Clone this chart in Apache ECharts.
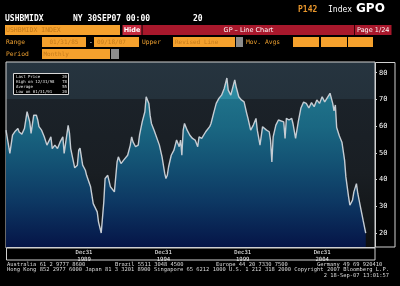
<!DOCTYPE html>
<html><head><meta charset="utf-8">
<script src="https://cdn.jsdelivr.net/npm/echarts@6/dist/echarts.min.js"></script>
<style>html,body{margin:0;padding:0;background:#000;}#c{width:400px;height:286px;}</style>
</head><body><div id="c"></div>
<script>
const months = ['1985-01','1985-04','1985-06','1985-08','1985-10','1985-11','1986-01','1986-03','1986-05','1986-07','1986-08','1986-10','1986-12',
'1987-01','1987-02','1987-04','1987-06','1987-08','1987-11','1987-12','1988-02','1988-04','1988-06','1988-08','1988-09','1988-12',
'1989-01','1989-02','1989-05','1989-07','1989-08','1989-09','1989-11','1990-01','1990-02','1990-05','1990-07','1990-10','1990-11',
'1991-01','1991-03','1991-04','1991-06','1991-08','1991-09','1991-11','1992-01','1992-02','1992-04','1992-06','1992-07','1992-09','1992-11','1992-12',
'1993-01','1993-03','1993-05','1993-06','1993-08','1993-10','1993-11','1994-01','1994-02','1994-03','1994-05','1994-06','1994-09','1994-11',
'1995-01','1995-02','1995-03','1995-04','1995-06','1995-08','1995-10','1995-11','1995-12','1996-01','1996-02','1996-03','1996-04','1996-06','1996-08','1996-10','1996-12',
'1997-02','1997-03','1997-05','1997-08','1997-09','1997-11','1997-12','1998-02','1998-04','1998-06','1998-08','1998-10','1998-12',
'1999-01','1999-03','1999-04','1999-06','1999-07','1999-09','1999-11','2000-01','2000-03','2000-04','2000-06','2000-08','2000-10','2000-11',
'2001-01','2001-03','2001-04','2001-06','2001-08','2001-09','2001-10','2001-11','2002-01','2002-03','2002-04','2002-07','2002-08','2002-09','2002-11',
'2003-01','2003-02','2003-04','2003-06','2003-08','2003-10','2003-12','2004-02','2004-04','2004-06','2004-08','2004-10','2004-12',
'2005-02','2005-03','2005-06','2005-08','2005-09','2005-10','2005-11','2006-01','2006-03','2006-05','2006-06','2006-08','2006-09','2006-11','2006-12',
'2007-02','2007-03','2007-05','2007-07','2007-09'];
const values = [58.5,49.8,56.6,58.1,59.1,57.8,57,59.1,65.4,61.6,57.3,64.1,64.1,
62.3,59.8,58.5,56,52.9,56,51.6,52.9,51.6,54.1,56,49.8,60.3,
57.3,51.6,44.4,45.4,51,51.8,45.4,43.5,41.6,37.3,31,27.9,24.1,
20,31.6,40.4,41.6,37.3,36.7,35.4,46.6,48.5,46,47.3,46.6,49.1,52.9,56,
54.1,52.3,52.9,56.6,61.6,65.4,71,68.5,64.1,61,58.5,57.9,52.9,48.5,
42.3,40.4,41.6,44.8,49.1,51,54.8,54.1,52.3,54.8,49.1,58.5,61,58.5,56.6,55.4,54.8,
52.3,56,55.4,57.9,58.5,59.8,61,64.8,68.5,70.4,71.6,74.1,78,
73.5,71.6,72.3,77.3,74.8,71,69.8,69.1,64.8,62.9,58.5,60.4,62.9,58.5,
52.9,59.8,59.1,58.5,57.9,54.8,46.6,56,60.4,62.3,61.6,61.6,55.4,62.9,62.3,
62.9,61,55.4,61.6,66.8,69,68.5,66.8,68.8,67.3,69.8,68.5,71,
69.1,68.5,72.3,68.5,65.7,67.9,59.5,56.3,54,47.3,41,33.5,30.4,32.3,35.4,
38.5,34.8,29.8,24.8,20];
const xTickDates = ['1989-12-31','1994-12-31','1999-12-31','2004-12-31'];
const yTicks = [20,30,40,50,60,70,80];
const legendRows = [['Last Price','20'],['High on 12/31/98','78'],['Average','55'],['Low on 01/31/91','20']];

function monthEnd(s){ const [y,m]=s.split('-').map(Number); return Date.UTC(y,m,0); }
function dayTs(s){ const [y,m,d]=s.split('-').map(Number); return Date.UTC(y,m-1,d); }
const seriesData = months.map((m,i)=>[monthEnd(m), values[i]]);

const ORANGE='#f5a12d', OTXT='#c47a1a', LBL='#eea030';
const mono = (sz,b)=>(b?'bold ':'')+sz+'px "DejaVu Sans Mono"';
const sans = (sz,b)=>(b?'bold ':'')+sz+'px "DejaVu Sans"';
function T(text,x,y,font,fill,align){ return {type:'text',silent:true,z:100,style:{text,x,y,font,fill,textAlign:align||'left',align:align||'left',textVerticalAlign:'middle',verticalAlign:'middle'}}; }
function R(x,y,w,h,fill,stroke){ return {type:'rect',silent:true,z:99,shape:{x,y,width:w,height:h},style:{fill:fill||'none',stroke:stroke||null,lineWidth:1}}; }

const g = [];
// header
g.push(T('P142',298,9.5,mono(8,true),'#e8962c'));
g.push(T('Index',328,9.5,mono(8,false),'#ffffff'));
g.push(T('GPO',356,9,sans(12,true),'#ffffff'));
g.push(T('USHBMIDX',5,18.5,mono(8,true),'#ffffff'));
g.push(T('NY 30SEP07 00:00',73,18.5,mono(8,true),'#ffffff'));
g.push(T('20',193,18.5,mono(8,true),'#ffffff'));
// row 2
g.push(R(5,25,115,10,ORANGE));
g.push(T('USHBMIDX INDEX',6,30.5,mono(6.5),OTXT));
g.push(R(122.5,25,19,10,'#c52a3f'));
g.push(T('Hide',132,30.5,sans(6.5,true),'#ffffff','center'));
g.push(R(142.5,25,249,10,'#a8182c'));
g.push({type:'line',silent:true,z:100,shape:{x1:354.5,y1:25,x2:354.5,y2:35},style:{stroke:'#3a0008',lineWidth:1}});
g.push(T('GP \u2013 Line Chart',248.5,30.5,sans(6.5),'#ffffff','center'));
g.push(T('Page 1/24',357,30.5,sans(6.5),'#ffffff'));
// row 3
g.push(T('Range',6,42,mono(6.3),LBL));
g.push(R(42,37,44,10,ORANGE)); g.push(T('01/31/85',49.5,42,mono(6),OTXT));
g.push(T('-',89,42,mono(6.3),'#ffffff'));
g.push(R(94,37,45,10,ORANGE)); g.push(T('09/18/07',97,42,mono(6),OTXT));
g.push(T('Upper',142,42,mono(6.3),LBL));
g.push(R(173,37,62,10,ORANGE)); g.push(T('Revised Line',175,42,mono(6),OTXT));
g.push(R(236,37,7,10,'#8c8c8c'));
g.push(T('Mov. Avgs',246,42,mono(6.3),LBL));
g.push(R(293,37,26,10,ORANGE)); g.push(R(321,37,26,10,ORANGE)); g.push(R(348,37,25,10,ORANGE));
// row 4
g.push(T('Period',6,54,mono(6.3),LBL));
g.push(R(42,49,68,10,ORANGE)); g.push(T('Monthly',43.5,54,mono(6),OTXT));
g.push(R(111,49,8,10,'#8c8c8c'));
// panels
g.push(R(6.5,247.5,368.5,12.5,null,'#d0d0d0'));
g.push(R(375.5,62.5,19.5,184.5,null,'#d0d0d0'));
// legend box
g.push(R(13.5,73.5,55,21,'#000000','#d8d8d8'));
legendRows.forEach((r,i)=>{
  g.push(T(r[0],16,76.8+i*4.9,mono(4),'#e8e8e8'));
  g.push(T(r[1],67,76.8+i*4.9,mono(4),'#e8e8e8','right'));
});
// footer
const fy1=264.8, fy2=269.8, fy3=275.2, ff=mono(5.43), fc='#dcdcdc';
g.push(T('Australia 61 2 9777 8600',7,fy1,ff,fc));
g.push(T('Brazil 5511 3048 4500',115,fy1,ff,fc));
g.push(T('Europe 44 20 7330 7500',216,fy1,ff,fc));
g.push(T('Germany 49 69 920410',317,fy1,ff,fc));
g.push(T('Hong Kong 852 2977 6000 Japan 81 3 3201 8900 Singapore 65 6212 1000 U.S. 1 212 318 2000 Copyright 2007 Bloomberg L.P.',7,fy2,ff,fc));
g.push(T('2 18-Sep-07 13:01:57',389,fy3,ff,fc,'right'));

const chart = echarts.init(document.getElementById('c'), null, {renderer:'canvas'});
chart.setOption({
  animation:false,
  backgroundColor:'#000000',
  grid:{left:6,right:25,top:62,bottom:38,show:true,borderColor:'#d0d0d0',borderWidth:1,
    backgroundColor:new echarts.graphic.LinearGradient(0,0,0,1,[
      {offset:0,color:'#26343f'},{offset:0.2,color:'#24313b'},{offset:0.201,color:'#1b2229'},
      {offset:0.6,color:'#191e23'},{offset:0.85,color:'#131618'},{offset:1,color:'#0c0d0e'}])},
  xAxis:{type:'value',min:Date.UTC(1985,0,31),max:Date.UTC(2008,3,30),
    axisLine:{show:false},axisTick:{show:false},splitLine:{show:false},
    axisLabel:{customValues:xTickDates.map(dayTs),color:'#ffffff',fontSize:5.6,lineHeight:6.6,margin:1.5,
      fontFamily:'DejaVu Sans Mono',hideOverlap:false,
      formatter:(v)=>'Dec31\n'+new Date(v).getUTCFullYear()}},
  yAxis:{type:'value',position:'right',min:14.4,max:84,
    axisLine:{show:false},splitLine:{show:false},
    axisTick:{show:true,customValues:yTicks,length:2,inside:false,lineStyle:{color:'#d0d0d0'}},
    axisLabel:{customValues:yTicks,color:'#ffffff',fontSize:7,margin:4,fontFamily:'DejaVu Sans Mono'}},
  series:[{type:'line',data:seriesData,showSymbol:false,symbol:'none',z:3,
    lineStyle:{color:'#c5ccd3',width:1.4},
    areaStyle:{origin:'start',opacity:1,color:{type:'linear',x:0,y:62,x2:0,y2:248,global:true,colorStops:[
      {offset:0,color:'#3294ab'},{offset:0.2,color:'#2b889f'},{offset:0.201,color:'#1f7189'},
      {offset:0.35,color:'#1a6782'},{offset:0.55,color:'#135173'},{offset:0.75,color:'#0d3863'},{offset:1,color:'#051447'}]}}}],
  graphic:{elements:g}
});
</script></body></html>
